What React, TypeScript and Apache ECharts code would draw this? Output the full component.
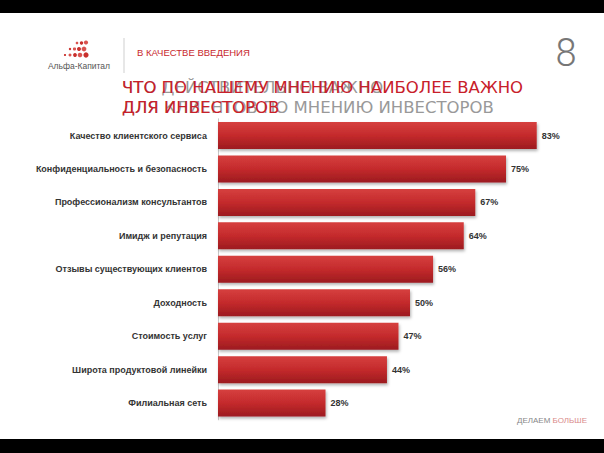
import React, { useEffect, useRef } from "react";
import * as echarts from "echarts";

const categories = [
  "Качество клиентского сервиса",
  "Конфиденциальность и безопасность",
  "Профессионализм консультантов",
  "Имидж и репутация",
  "Отзывы существующих клиентов",
  "Доходность",
  "Стоимость услуг",
  "Широта продуктовой линейки",
  "Филиальная сеть",
];
const values = [83, 75, 67, 64, 56, 50, 47, 44, 28];

const titleRed = ["ЧТО ПО НАШЕМУ МНЕНИЮ НАИБОЛЕЕ ВАЖНО", "ДЛЯ ИНВЕСТОРОВ"];
const titleGray = ["ЧТО ДЕЙСТВИТЕЛЬНО ВАЖНО", "ДЛЯ КЛИЕНТОВ ПО МНЕНИЮ ИНВЕСТОРОВ"];

const logoDots: [number, number, number][] = [
  [77, 43, 1.3], [81.5, 43, 1.7], [86, 42.5, 2.1],
  [70, 49, 1.2], [74.5, 49, 1.6], [79, 49, 2.0], [84, 49, 2.4],
  [65, 55, 1.1], [70, 55, 1.5], [75, 55, 1.9], [80, 55, 2.3], [86, 55, 2.6],
];

export default function App() {
  const ref = useRef<HTMLDivElement>(null);
  useEffect(() => {
    if (!ref.current) return;
    const chart = echarts.init(ref.current, null, { renderer: "svg" });
    const font = "'Liberation Sans', Arial, sans-serif";
    const tfont = "'DejaVu Sans', sans-serif";
    const graphics: any[] = [
      { type: "rect", shape: { x: 0, y: 0, width: 604, height: 13 }, style: { fill: "#000" }, silent: true },
      { type: "rect", shape: { x: 0, y: 439, width: 604, height: 14 }, style: { fill: "#000" }, silent: true },
      ...logoDots.map(([x, y, r], i) => ({
        type: "circle",
        shape: { cx: x, cy: y, r },
        style: { fill: i % 2 === 0 ? "#d9534f" : "#c9302c" },
        silent: true,
      })),
      {
        type: "text", x: 79, y: 66,
        style: { text: "Альфа-Капитал", font: `8.5px ${font}`, fill: "#555", textAlign: "center", textVerticalAlign: "middle" },
      },
      { type: "line", shape: { x1: 124, y1: 38, x2: 124, y2: 73 }, style: { stroke: "#cfcfcf", lineWidth: 1 } },
      {
        type: "text", x: 137, y: 52,
        style: { text: "В КАЧЕСТВЕ ВВЕДЕНИЯ", font: `9.5px ${font}`, fill: "#c8282e", textVerticalAlign: "middle" },
      },
      {
        type: "text", x: 566, y: 53,
        style: { text: "8", font: `300 38px Roboto, ${font}`, fill: "#777", textAlign: "center", textVerticalAlign: "middle" },
      },
      ...titleGray.map((t, i) => ({
        type: "text", x: 122, y: 87 + i * 20,
        style: { text: t, font: `16.5px ${tfont}`, fill: "#999", textVerticalAlign: "middle" },
      })),
      ...titleRed.map((t, i) => ({
        type: "text", x: 122, y: 87 + i * 20,
        style: { text: t, font: `16.5px ${tfont}`, fill: "#c8202a", textVerticalAlign: "middle" },
      })),
      {
        type: "text", x: 587, y: 420,
        style: {
          text: "{a|ДЕЛАЕМ }{b|БОЛЬШЕ}", textAlign: "right", textVerticalAlign: "middle",
          rich: {
            a: { font: `8px ${font}`, fill: "#888" },
            b: { font: `8px ${font}`, fill: "#d98a8a" },
          },
        },
      },
    ];
    chart.setOption({
      animation: false,
      backgroundColor: "#fff",
      grid: { left: 218, top: 118.8, width: 384, height: 301 },
      xAxis: { type: "value", min: 0, max: 100, show: false },
      yAxis: {
        type: "category",
        data: categories,
        inverse: true,
        axisLine: { show: true, lineStyle: { color: "#c8c8c8", width: 1 } },
        axisTick: { show: false },
        axisLabel: { margin: 11, color: "#333", fontWeight: "bold", fontSize: 9, fontFamily: font },
      },
      series: [
        {
          type: "bar",
          data: values,
          barWidth: 27,
          itemStyle: {
            color: new echarts.graphic.LinearGradient(0, 0, 0, 1, [
              { offset: 0, color: "#d6403f" },
              { offset: 0.5, color: "#c42a2c" },
              { offset: 1, color: "#9c1b1f" },
            ]),
            shadowColor: "rgba(0,0,0,0.3)",
            shadowBlur: 3,
            shadowOffsetX: 1,
            shadowOffsetY: 2,
          },
          label: {
            show: true,
            position: "right",
            distance: 5,
            formatter: "{c}%",
            color: "#333",
            fontWeight: "bold",
            fontSize: 9,
            fontFamily: font,
          },
        },
      ],
      graphic: graphics,
    });
    return () => chart.dispose();
  }, []);
  return <div ref={ref} style={{ position: "fixed", left: 0, top: 0, width: 604, height: 453 }} />;
}
